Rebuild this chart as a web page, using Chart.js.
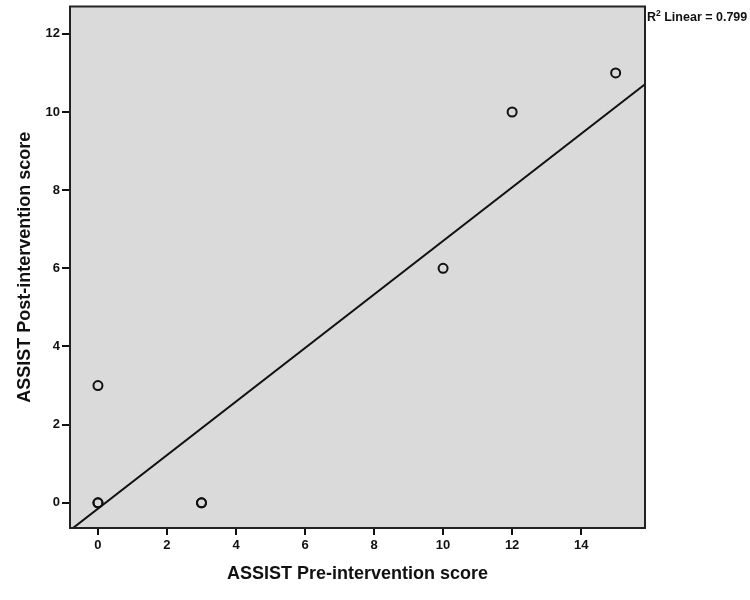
<!DOCTYPE html>
<html>
<head>
<meta charset="utf-8">
<script src="https://cdn.jsdelivr.net/npm/chart.js@4"></script>
<style>
  html, body { margin: 0; padding: 0; background: #fff; }
  #wrap { width: 750px; height: 600px; position: relative; }
</style>
</head>
<body>
<div id="wrap"><canvas id="chart"></canvas></div>
<script>
// Pre / post scores (overlapping points at 0,0 and 3,0)
const preScores = [0, 0, 0, 3, 3, 10, 12, 15];
const postScores = [3, 0, 0, 0, 0, 6, 10, 11];

// Fit line (ends at the plot edges)
const fitX = [-0.81, 15.85];
const fitY = [-0.705, 10.71];
const fitLabel = ['R', '2', ' Linear = 0.799'];

const xTicks = [0, 2, 4, 6, 8, 10, 12, 14];
const yTicks = [0, 2, 4, 6, 8, 10, 12];

const tickFont = { family: 'Liberation Sans, Arial, sans-serif', size: 13, weight: 'bold' };
const titleFont = { family: 'Liberation Sans, Arial, sans-serif', size: 18, weight: 'bold' };

// gray plot background and frame, plus the R2 note
const plotFrame = {
  id: 'plotFrame',
  beforeDatasetsDraw(chart) {
    const { ctx, chartArea: a } = chart;
    ctx.save();
    ctx.fillStyle = '#dadada';
    ctx.fillRect(a.left, a.top, a.right - a.left, a.bottom - a.top);
    ctx.restore();
  },
  afterDraw(chart) {
    const { ctx, chartArea: a } = chart;
    ctx.save();
    ctx.strokeStyle = '#222';
    ctx.lineWidth = 2;
    ctx.strokeRect(a.left, a.top, a.right - a.left, a.bottom - a.top);

    ctx.fillStyle = '#111';
    ctx.textBaseline = 'alphabetic';
    let x = a.right + 2;
    const y = 21;
    ctx.font = 'bold 12.5px Liberation Sans, Arial, sans-serif';
    ctx.fillText(fitLabel[0], x, y);
    x += ctx.measureText(fitLabel[0]).width;
    ctx.font = 'bold 8.5px Liberation Sans, Arial, sans-serif';
    ctx.fillText(fitLabel[1], x, y - 5);
    x += ctx.measureText(fitLabel[1]).width;
    ctx.font = 'bold 12.5px Liberation Sans, Arial, sans-serif';
    ctx.fillText(fitLabel[2], x, y);
    ctx.restore();
  }
};

const ctx = document.getElementById('chart').getContext('2d');
const chart = new Chart(ctx, {
  type: 'scatter',
  data: {
    datasets: [{
      type: 'line',
      data: fitX.map((x, i) => ({ x: x, y: fitY[i] })),
      borderColor: '#111',
      borderWidth: 2,
      pointRadius: 0,
      fill: false,
      order: 2
    }, {
      data: preScores.map((x, i) => ({ x: x, y: postScores[i] })),
      pointStyle: 'circle',
      pointRadius: 4.5,
      borderWidth: 2,
      borderColor: '#111',
      backgroundColor: 'rgba(0,0,0,0)',
      order: 1
    }]
  },
  options: {
    responsive: true,
    maintainAspectRatio: false,
    animation: false,
    layout: { padding: { top: 5, right: 105, left: 0, bottom: 0 } },
    plugins: {
      legend: { display: false },
      tooltip: { enabled: false }
    },
    scales: {
      x: {
        type: 'linear',
        min: -0.81,
        max: 15.85,
        afterBuildTicks: s => { s.ticks = xTicks.map(v => ({ value: v })); },
        afterFit: s => { s.height = 72; s.paddingLeft = 0; s.paddingRight = 0; },
        ticks: { color: '#111', font: tickFont, padding: 3 },
        grid: { drawOnChartArea: false, drawTicks: true, tickLength: 7, color: '#111', lineWidth: 2 },
        border: { display: true, color: '#111', width: 2 },
        title: {
          display: true,
          text: 'ASSIST Pre-intervention score',
          color: '#111',
          font: titleFont,
          padding: { top: 0, bottom: 15 }
        }
      },
      y: {
        type: 'linear',
        min: -0.645,
        max: 12.7,
        afterBuildTicks: s => { s.ticks = yTicks.map(v => ({ value: v })); },
        afterFit: s => { s.width = 70; s.paddingTop = 0; s.paddingBottom = 0; },
        ticks: { color: '#111', font: tickFont, padding: 2 },
        grid: { drawOnChartArea: false, drawTicks: true, tickLength: 8, color: '#111', lineWidth: 2 },
        border: { display: true, color: '#111', width: 2 },
        title: {
          display: true,
          text: 'ASSIST Post-intervention score',
          color: '#111',
          font: titleFont,
          padding: { top: 14, bottom: 0 }
        }
      }
    }
  },
  plugins: [plotFrame]
});
</script>
</body>
</html>
